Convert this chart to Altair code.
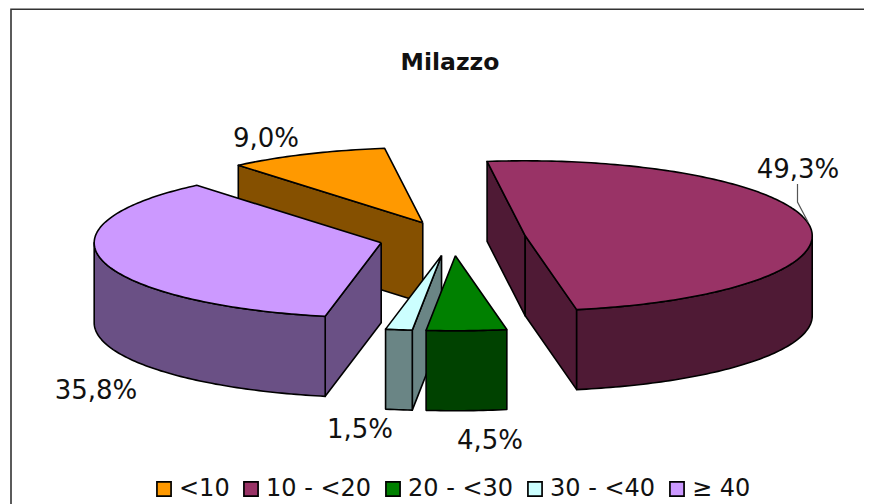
import math
import altair as alt
import pandas as pd

# data
categories = ["<10", "10 - <20", "20 - <30", "30 - <40", "\u2265 40"]
shares = [9.0, 49.3, 4.5, 1.5, 35.8]
share_labels = ["9,0%", "49,3%", "4,5%", "1,5%", "35,8%"]
top_colors = ["#FF9900", "#993366", "#008000", "#CCFFFF", "#CC99FF"]
wall_colors = ["#855000", "#4F1A35", "#004200", "#6A8585", "#6A5085"]
title_text = "Milazzo"

# layout of the tilted pie, in page pixels
CX, CY = 452.5, 238.5
RX, RY = 287.0, 75.0
DEPTH = 80.0
EXPLODE_X, EXPLODE_Y = 0.2565, 0.23
START = -40.0
PAINT_ORDER = [0, 4, 1, 3, 2]
LABEL_XY = [(266, 139), (798, 170), (490, 441), (360, 430), (96, 391)]

W, H = 856, 496
x_scale = alt.Scale(domain=[8, 864], nice=False, zero=False)
y_scale = alt.Scale(domain=[504, 8], nice=False, zero=False)


def poly(points, fill):
    pts = list(points) + [points[0]]
    df = pd.DataFrame({"px": [p[0] for p in pts], "py": [p[1] for p in pts], "i": range(len(pts))})
    return (
        alt.Chart(df)
        .mark_line(filled=True, fill=fill, stroke="black", strokeWidth=1.6, strokeJoin="round")
        .encode(
            x=alt.X("px:Q", scale=x_scale, axis=None),
            y=alt.Y("py:Q", scale=y_scale, axis=None),
            order="i:Q",
        )
    )


def arc_pts(cx, cy, a, b, dz=0.0):
    n = max(2, int(abs(b - a)) + 2)
    out = []
    for k in range(n):
        t = math.radians(a + (b - a) * k / (n - 1))
        out.append((cx + RX * math.sin(t), cy - RY * math.cos(t) + dz))
    return out


total = sum(shares)
spans = []
ang = START
for s in shares:
    spans.append((ang, ang + s / total * 360))
    ang += s / total * 360

layers = []
legend_df = pd.DataFrame({"cat": categories})
layers.append(
    alt.Chart(legend_df)
    .mark_square(opacity=0, size=10)
    .encode(
        x=alt.value(20),
        y=alt.value(20),
        color=alt.Color(
            "cat:N",
            sort=categories,
            scale=alt.Scale(domain=categories, range=top_colors),
            legend=alt.Legend(
                title=None,
                orient="none",
                legendX=144,
                legendY=469,
                columns=5,
                symbolType="square",
                symbolSize=200,
                symbolOpacity=1,
                symbolStrokeColor="black",
                symbolStrokeWidth=1.7,
                labelFont="DejaVu Sans",
                labelFontSize=24,
                labelColor="#111111",
                labelOffset=3,
                labelLimit=300,
                columnPadding=9,
                padding=0,
            ),
        ),
    )
)

layers.append(
    alt.Chart(pd.DataFrame({"px": [11, 11, 864], "py": [504, 9.2, 9.2], "i": [0, 1, 2]}))
    .mark_line(color="#333333", strokeWidth=1.6)
    .encode(x=alt.X("px:Q", scale=x_scale, axis=None), y=alt.Y("py:Q", scale=y_scale, axis=None), order="i:Q")
)

for idx in PAINT_ORDER:
    a, b = spans[idx]
    m = math.radians((a + b) / 2)
    cx = CX + EXPLODE_X * RX * math.sin(m)
    cy = CY - EXPLODE_Y * RY * math.cos(m)
    rim_a = arc_pts(cx, cy, a, a)[0]
    rim_b = arc_pts(cx, cy, b, b)[0]
    if math.sin(math.radians(a)) < 0:
        layers.append(poly([(cx, cy), rim_a, (rim_a[0], rim_a[1] + DEPTH), (cx, cy + DEPTH)], wall_colors[idx]))
    if math.sin(math.radians(b)) > 0:
        layers.append(poly([(cx, cy), rim_b, (rim_b[0], rim_b[1] + DEPTH), (cx, cy + DEPTH)], wall_colors[idx]))
    wa, wb = max(a, 90), min(b, 270)
    if wa < wb:
        upper = arc_pts(cx, cy, wa, wb)
        lower = arc_pts(cx, cy, wb, wa, DEPTH)
        layers.append(poly(upper + lower, wall_colors[idx]))
    layers.append(poly([(cx, cy)] + arc_pts(cx, cy, a, b), top_colors[idx]))

# leader line of the largest slice
layers.append(
    alt.Chart(pd.DataFrame({"px": [797.5, 797.5, 808], "py": [184, 202, 222], "i": [0, 1, 2]}))
    .mark_line(color="#555555", strokeWidth=1.2)
    .encode(x=alt.X("px:Q", scale=x_scale, axis=None), y=alt.Y("py:Q", scale=y_scale, axis=None), order="i:Q")
)

labels_df = pd.DataFrame(
    {"label": share_labels, "px": [p[0] for p in LABEL_XY], "py": [p[1] for p in LABEL_XY]}
)
layers.append(
    alt.Chart(labels_df)
    .mark_text(font="DejaVu Sans", fontSize=26, color="#111111", baseline="middle", align="center")
    .encode(x=alt.X("px:Q", scale=x_scale, axis=None), y=alt.Y("py:Q", scale=y_scale, axis=None), text="label:N")
)
layers.append(
    alt.Chart(pd.DataFrame({"label": [title_text], "px": [450], "py": [63]}))
    .mark_text(font="DejaVu Sans", fontSize=23.5, fontWeight="bold", color="#111111", baseline="middle", align="center")
    .encode(x=alt.X("px:Q", scale=x_scale, axis=None), y=alt.Y("py:Q", scale=y_scale, axis=None), text="label:N")
)

chart = (
    alt.layer(*layers)
    .properties(width=W, height=H, padding=0, background="white", autosize=alt.AutoSizeParams(type="none"))
    .configure_view(stroke=None)
)
chart.save("out.html", embed_options={"renderer": "svg", "actions": False})
